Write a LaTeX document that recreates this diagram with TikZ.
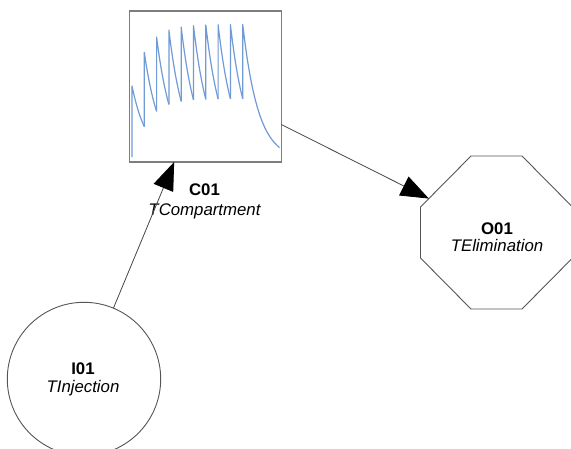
\documentclass[tikz,border=0pt]{standalone}
\usepackage{fontspec}
\setmainfont{Liberation Sans}
\usetikzlibrary{arrows.meta,intersections}
\definecolor{curveblue}{RGB}{112,155,214}
\definecolor{boxgray}{RGB}{125,125,125}
\definecolor{edgegray}{RGB}{85,85,85}
\definecolor{conngray}{RGB}{70,70,70}
\tikzset{
  idlabel/.style={font=\fontsize{16.8}{19}\selectfont\bfseries, anchor=base, inner sep=0pt},
  typelabel/.style={font=\fontsize{16.8}{19}\selectfont\itshape, anchor=base, inner sep=0pt},
  plotbox/.style={draw=boxgray, line width=1.4pt, minimum width=152pt, minimum height=151pt, inner sep=0pt, outer sep=0pt},
  injcircle/.style={circle, draw=edgegray, line width=0.9pt, minimum size=153.4pt, inner sep=0pt, outer sep=0pt},
  octcentre/.style={inner sep=0pt, outer sep=0pt, minimum size=0pt},
  octline/.style={draw=edgegray, line width=0.9pt, line join=miter},
  conn/.style={draw=conngray, line width=0.8pt, -{Triangle[length=28pt,width=21pt,color=black]}},
  curve/.style={draw=curveblue, line width=1.2pt, line join=round}
}
\begin{document}
\begin{tikzpicture}[x=1pt,y=-1pt]
\path[use as bounding box, fill=white] (0,0) rectangle (571,448);
% shapes
\node[plotbox] (c01) at (205.5,86.5) {};
\node[injcircle] (i01) at (84,379) {};
\node[octcentre] (o01) at (496.5,232.5) {};
\draw[octline, name path=octpath]
  ([shift={(-25.5,-76.5)}]o01.center) -- ([shift={(25.5,-76.5)}]o01.center)
  -- ([shift={(76,-25.5)}]o01.center) -- ([shift={(76,25.5)}]o01.center)
  -- ([shift={(25.5,76.5)}]o01.center) -- ([shift={(-25.5,76.5)}]o01.center)
  -- ([shift={(-76,25.5)}]o01.center) -- ([shift={(-76,-25.5)}]o01.center) -- cycle;
% curve inside compartment box
\foreach \i in {0,...,9} {
  \pgfmathsetmacro\xa{132+12.3*\i}
  \pgfmathsetmacro\P{135.83*(1-0.453^(\i+1))}
  \pgfmathsetmacro\T{135.83*(1-0.453^(\i))*0.453}
  \pgfmathsetmacro\xb{ifthenelse(\i==9,279.5,\xa+12.3)}
  \pgfmathsetmacro\ys{ifthenelse(\i==0,157,160.3-\T)}
  \draw[curve] (\xa,\ys) -- plot[domain=\xa:\xb, samples=16] (\x,{160.3-\P*exp(-0.06438*(\x-\xa))});
}
% labels
\node[idlabel] (c01id) at (204.5,195.5) {C01};
\node[typelabel] (c01type) at (204.5,215) {TCompartment};
\node[idlabel] (o01id) at (497,234) {O01};
\node[typelabel] (o01type) at (497,251) {TElimination};
\node[idlabel] (i01id) at (83,374) {I01};
\node[typelabel] (i01type) at (83,392.5) {TInjection};
% connectors
\path[name path=c2o] (c01.center) -- (o01.center);
\path[name intersections={of=octpath and c2o, by=oin}];
\coordinate (o01in) at (oin);
\draw[conn] (i01) -- (c01);
\draw[conn] (c01) -- (o01in);
\end{tikzpicture}
\end{document}
